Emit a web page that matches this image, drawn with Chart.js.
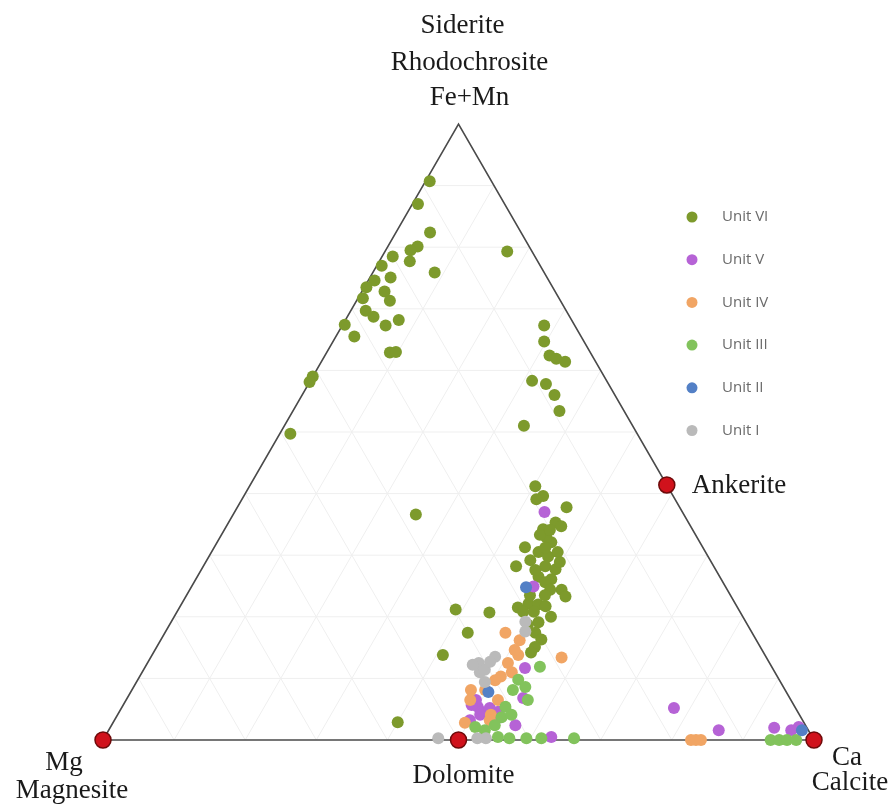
<!DOCTYPE html>
<html><head><meta charset="utf-8">
<script src="https://cdn.jsdelivr.net/npm/chart.js@4"></script>
<style>html,body{margin:0;padding:0;background:#fff;}canvas{display:block;}</style>
</head><body>
<canvas id="c" width="891" height="805"></canvas>
<script>
// Ternary compositions (percent). Mg = 100 - Ca - Fe.
const seriesNames = ['Unit VI','Unit V','Unit IV','Unit III','Unit II','Unit I'];
const seriesColors = ['#7d9a2c','#b663d6','#f1a564','#82c35c','#5380c6','#bababa'];

const unitVI_Fe = [90.7,87.0,82.4,80.1,79.5,78.5,77.7,77.0,75.9,75.1,74.6,73.5,72.8,71.3,71.7,69.7,68.7,67.4,67.3,68.2,65.5,62.9,63.0,59.0,58.1,49.7,79.3,67.3,64.7,62.4,61.9,61.4,58.3,57.8,56.0,53.4,51.0,36.6,41.2,39.6,39.1,37.8,35.3,34.7,31.3,32.1,30.5,29.8,28.2,27.7,28.2,26.5,26.1,25.6,24.4,23.3,21.2,20.7,21.5,22.1,22.0,21.7,20.0,17.4,19.1,17.4,16.3,13.8,2.9,34.2,32.9,15.1,14.2,29.2,27.6,31.2,24.4,23.5,23.5,30.5,28.9,33.3,34.1,20.8,18.7,20.8];
const unitVI_Ca = [0.6,0.8,4.8,4.2,3.5,1.5,4.3,0.7,8.7,2.9,0.9,0.3,3.2,4.7,0.7,2.1,3.7,0.3,6.1,7.5,2.6,8.9,9.7,0,0,1.5,17.2,28.4,29.7,31.6,32.8,34.3,31.2,33.4,35.5,37.5,33.7,25.7,40.2,42.1,41.4,46.3,46.0,47.1,43.7,47.0,46.0,47.7,48.1,49.8,44.0,48.0,50.0,49.4,52.3,53.4,39.0,44.0,47.6,48.8,50.2,51.4,53.0,42.6,51.7,52.1,53.5,40.9,40.0,44.8,45.9,53.2,53.1,45.5,47.0,46.6,50.7,48.3,50.4,48.7,49.8,44.8,45.8,48.7,50.4,50.2];

const unitV_Fe = [37.0,24.9,11.7,5.4,6.8,2.4,0.5,5.2,1.6,2.0,1.6,2.1,6.5,4.6,4.6,5.7,4.1,5.2,3.7,3.2];
const unitV_Ca = [43.6,48.1,53.5,50.0,55.7,56.8,62.8,77.7,85.8,93.4,96.0,96.8,49.2,50.9,53.3,49.0,51.0,51.8,54.0,50.0];

const unitIV_Fe = [17.4,13.4,12.5,10.3,6.5,2.8,4.1,0,0,0,13.8,8.1,11.0,8.1,9.7,14.6,16.2,6.5,3.2];
const unitIV_Ca = [47.9,57.8,50.7,50.8,52.3,49.5,52.5,82.7,83.4,84.1,51.5,47.7,52.0,49.7,50.3,50.6,50.5,48.4,52.8];

const unitIII_Fe = [11.9,9.8,8.6,5.4,2.1,3.7,4.1,0.5,0.3,0.3,0.3,0.3,0,0,0,0,8.1,6.5,2.4,1.6];
const unitIII_Ca = [55.5,53.5,55.1,53.9,51.3,54.2,55.4,55.3,57.0,59.4,61.5,66.1,93.9,95.1,96.2,97.5,53.6,56.5,53.9,52.9];

const unitII_Fe = [24.8,7.8,1.6];
const unitII_Ca = [47.1,50.3,97.5];

const unitI_Fe = [17.6,12.5,13.5,9.4,0.3,0.3,0.3,11.0,11.4,12.2,12.7,19.2];
const unitI_Ca = [50.6,46.6,48.4,49.0,47.0,52.5,53.7,47.5,48.0,45.9,48.1,49.8];

const endMemberNames = ['Magnesite','Dolomite','Calcite','Ankerite'];
const endMemberFe = [0,0,0,41.4];
const endMemberCa = [0,50,100,58.6];

const gridTicks = [10,20,30,40,50,60,70,80,90];

const H = Math.sqrt(3)/2;
function toXY(fe, ca){ return fe.map((f,i)=>({x: ca[i] + f/2, y: f*H})); }

const unitFe = [unitVI_Fe,unitV_Fe,unitIV_Fe,unitIII_Fe,unitII_Fe,unitI_Fe];
const unitCa = [unitVI_Ca,unitV_Ca,unitIV_Ca,unitIII_Ca,unitII_Ca,unitI_Ca];

const datasets = seriesNames.map((name,i)=>({
  label: name,
  data: toXY(unitFe[i], unitCa[i]),
  backgroundColor: seriesColors[i],
  borderColor: seriesColors[i],
  borderWidth: 0,
  pointRadius: 6,
  order: 6 - i + 1,
  clip: false
}));
datasets.push({
  label: 'End members',
  data: toXY(endMemberFe, endMemberCa),
  backgroundColor: '#d0121c',
  borderColor: '#6e0a0a',
  borderWidth: 1.5,
  pointRadius: 8,
  order: 0,
  clip: false
});

const ternaryPlugin = {
  id: 'ternary',
  beforeDatasetsDraw(chart){
    const {ctx, scales:{x, y}} = chart;
    const P = (ca, fe) => [x.getPixelForValue(ca + fe/2), y.getPixelForValue(fe*H)];
    const line = (a,b) => { ctx.beginPath(); ctx.moveTo(a[0],a[1]); ctx.lineTo(b[0],b[1]); ctx.stroke(); };
    ctx.save();
    ctx.strokeStyle = '#efefef';
    ctx.lineWidth = 1;
    gridTicks.forEach(t => {
      line(P(0,t), P(100-t,t));
      line(P(t,0), P(t,100-t));
      line(P(100-t,0), P(0,100-t));
    });
    ctx.strokeStyle = '#4a4a4a';
    ctx.lineWidth = 1.6;
    const A = P(0,0), B = P(100,0), C = P(0,100);
    ctx.beginPath(); ctx.moveTo(A[0],A[1]); ctx.lineTo(B[0],B[1]); ctx.lineTo(C[0],C[1]); ctx.closePath(); ctx.stroke();
    ctx.restore();
  },
  afterDraw(chart){
    const {ctx, scales:{x, y}} = chart;
    const P = (ca, fe) => [x.getPixelForValue(ca + fe/2), y.getPixelForValue(fe*H)];
    const mg = P(0,0), ca = P(100,0), fe = P(0,100), dol = P(50,0), ank = P(58.6,41.4);
    ctx.save();
    ctx.fillStyle = '#1a1a1a';
    ctx.font = '27px "Liberation Serif", "Times New Roman", serif';
    ctx.textBaseline = 'alphabetic';
    ctx.textAlign = 'center';
    ctx.fillText('Siderite', fe[0]+4, 33);
    ctx.fillText('Rhodochrosite', fe[0]+11, 70);
    ctx.fillText('Fe+Mn', fe[0]+11, 105);
    ctx.fillText('Mg', mg[0]-39, mg[1]+30);
    ctx.fillText('Magnesite', mg[0]-31, mg[1]+58);
    ctx.fillText('Dolomite', dol[0]+5, dol[1]+43);
    ctx.fillText('Ca', ca[0]+33, ca[1]+25);
    ctx.fillText('Calcite', ca[0]+36, ca[1]+50);
    ctx.textAlign = 'left';
    ctx.fillText('Ankerite', ank[0]+25, ank[1]+8);
    // legend
    ctx.font = '15px "Open Sans", sans-serif';
    ctx.textBaseline = 'middle';
    seriesNames.forEach((n,i)=>{
      const yy = 217 + i*42.7;
      ctx.beginPath();
      ctx.fillStyle = seriesColors[i];
      ctx.arc(692, yy, 5.5, 0, Math.PI*2);
      ctx.fill();
      ctx.fillStyle = '#6a6a6a';
      ctx.fillText(n, 722, yy);
    });
    ctx.restore();
  }
};

new Chart(document.getElementById('c'), {
  type: 'scatter',
  data: { datasets },
  options: {
    responsive: false,
    animation: false,
    devicePixelRatio: 1,
    layout: { padding: { left: 103, right: 77, top: 124, bottom: 65 } },
    scales: {
      x: { type: 'linear', min: 0, max: 100, display: false },
      y: { type: 'linear', min: 0, max: 100*H, display: false }
    },
    plugins: { legend: { display: false }, tooltip: { enabled: false } }
  },
  plugins: [ternaryPlugin]
});
</script>
</body></html>
